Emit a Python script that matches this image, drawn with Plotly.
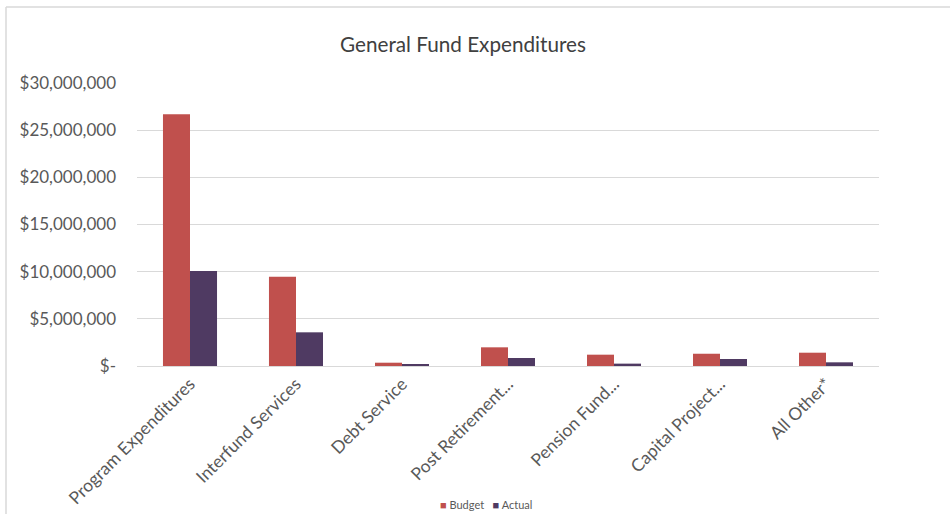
import plotly.graph_objects as go

# Expenditure categories and amounts (USD)
categories = [
    "Program Expenditures",
    "Interfund Services",
    "Debt Service",
    "Post Retirement...",
    "Pension Fund...",
    "Capital Project...",
    "All Other*",
]
budget = [26700000, 9470000, 350000, 1980000, 1200000, 1300000, 1410000]
actual = [10070000, 3570000, 140000, 850000, 250000, 740000, 390000]

tick_values = [0, 5000000, 10000000, 15000000, 20000000, 25000000, 30000000]
tick_labels = ["$-", "$5,000,000", "$10,000,000", "$15,000,000",
               "$20,000,000", "$25,000,000", "$30,000,000"]

series_names = ["Budget", "Actual"]
series_colors = ["#C0504D", "#4F3A62"]

FONT = "Lato, Open Sans, sans-serif"
W, H = 950, 514
L, R, T, B = 137, 71, 83, 148
PW, PH = W - L - R, H - T - B

fig = go.Figure()
for name, vals, col in zip(series_names, [budget, actual], series_colors):
    fig.add_trace(go.Bar(name=name, x=categories, y=vals,
                         marker=dict(color=col, line=dict(width=0))))

# compact legend below the axis labels
legend_text = "   ".join(
    f"<span style='color:{c}'>■</span> {n}" for n, c in zip(series_names, series_colors)
)

fig.update_layout(
    width=W, height=H,
    margin=dict(l=L, r=R, t=T, b=B, autoexpand=False),
    paper_bgcolor="white", plot_bgcolor="white",
    barmode="group", bargap=0.49, bargroupgap=0,
    title=dict(text="General Fund Expenditures", x=463 / W, xanchor="center",
               y=1 - 45 / H, yanchor="middle", xref="container", yref="container",
               font=dict(family=FONT, size=20.7, color="#404040")),
    font=dict(family=FONT, color="#595959"),
    showlegend=False,
    annotations=[
        dict(text=legend_text, xref="paper", yref="paper",
             x=(486 - L) / PW, xanchor="center",
             y=-(504 - (H - B)) / PH, yanchor="middle", showarrow=False,
             font=dict(family=FONT, size=11, color="#595959")),
    ],
    xaxis=dict(tickangle=-45, tickfont=dict(size=17.5, color="#595959"),
               showline=True, linecolor="#d9d9d9", linewidth=1,
               ticks="", showgrid=False),
    yaxis=dict(range=[0, 30000000], tickvals=tick_values, ticktext=tick_labels,
               tickfont=dict(size=17, color="#595959"), gridcolor="#d9d9d9",
               gridwidth=1, zeroline=False, showline=False, ticks="",
               ticklabelstandoff=20),
    shapes=[
        # chart area frame (top and left edges)
        dict(type="line", xref="paper", yref="paper",
             x0=(6 - L) / PW, x1=(W + 5 - L) / PW,
             y0=1 + (T - 7) / PH, y1=1 + (T - 7) / PH,
             line=dict(color="#d9d9d9", width=1.5)),
        dict(type="line", xref="paper", yref="paper",
             x0=(6 - L) / PW, x1=(6 - L) / PW,
             y0=1 + (T - 7) / PH, y1=-(H + 5 - (H - B)) / PH,
             line=dict(color="#d9d9d9", width=1.5)),
    ],
)

fig.write_html("out.html")
